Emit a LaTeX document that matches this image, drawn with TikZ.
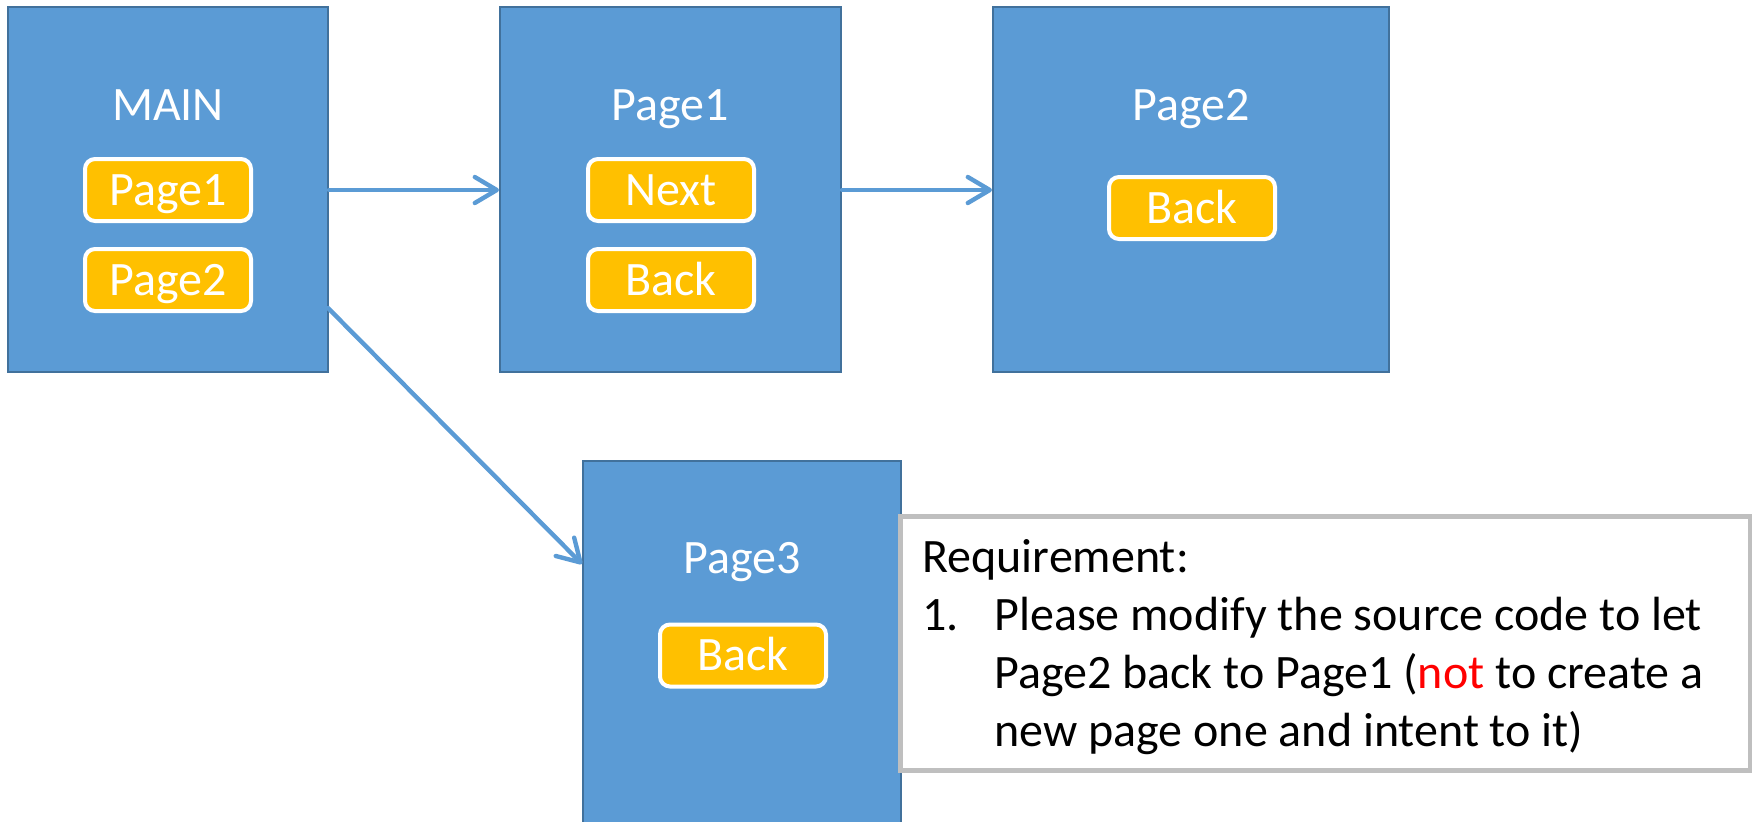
\documentclass[tikz,border=0pt]{standalone}
\usepackage{fontspec}
\setmainfont{Carlito}
\usetikzlibrary{arrows.meta,calc}
\definecolor{pagefill}{HTML}{5B9BD5}
\definecolor{pageedge}{HTML}{41719C}
\definecolor{btnfill}{HTML}{FFC000}
\definecolor{noteedge}{HTML}{BFBFBF}
\definecolor{alertred}{HTML}{FF0000}
\tikzset{
  pagebox/.style={rectangle, draw=pageedge, fill=pagefill, line width=1pt, inner sep=0pt},
  pagetitle/.style={text=white, anchor=base, inner sep=0pt, font=\fontsize{24pt}{29pt}\selectfont},
  btn/.style={rectangle, rounded corners=5pt, draw=white, fill=btnfill, line width=2pt,
    minimum width=83pt, minimum height=31pt, inner sep=0pt, text=white,
    text height=15pt, text depth=0pt,
    font=\fontsize{24pt}{29pt}\selectfont},
  flow/.style={draw=pagefill, line width=2.2pt, line cap=round,
    -{Straight Barb[length=11pt, width=13pt, line cap=round, line join=round]}},
  notebox/.style={rectangle, draw=noteedge, fill=white, line width=2.5pt, inner sep=0pt},
  notetext/.style={inner sep=0pt, anchor=base west, align=left,
    font=\fontsize{24pt}{28.5pt}\selectfont}
}
\begin{document}
\begin{tikzpicture}[x=0.5pt, y=-0.5pt]
  \useasboundingbox (0,0) rectangle (1752,821);
  \clip (0,0) rectangle (1752,821);

  % page screens
  \node[pagebox, minimum width=160pt, minimum height=182.5pt] (main) at (168,189.5) {};
  \node[pagebox, minimum width=170.5pt, minimum height=182.5pt] (page1) at (670.5,189.5) {};
  \node[pagebox, minimum width=198pt, minimum height=182.5pt] (page2) at (1191,189.5) {};
  \node[pagebox, minimum width=159pt, minimum height=219.5pt] (page3) at (742,680.5) {};

  % screen titles
  \node[pagetitle] (maint) at (168,120) {MAIN};
  \node[pagetitle] (page1t) at (670.5,120) {Page1};
  \node[pagetitle] (page2t) at (1191,120) {Page2};
  \node[pagetitle] (page3t) at (742,573) {Page3};

  % buttons
  \node[btn] (mainb1) at (168,190) {Page1};
  \node[btn] (mainb2) at (168,280) {Page2};
  \node[btn] (p1next) at (671,190) {Next};
  \node[btn] (p1back) at (671,280) {Back};
  \node[btn] (p2back) at (1192,208) {Back};
  \node[btn] (p3back) at (743,655.5) {Back};

  % navigation
  \coordinate (diagstart) at (328,308);
  \coordinate (diagend) at (582,564);
  \draw[flow] (mainb1 -| main.east) -- (mainb1 -| page1.west);
  \draw[flow] (p1next -| page1.east) -- (p1next -| page2.west);
  \draw[flow] (diagstart) -- (diagend);

  % requirement note
  \node[notebox, minimum width=425pt, minimum height=127pt] (note) at (1325,643) {};
  \node[notetext] (notetxt) at (922,572) {%
    \def\arraystretch{1.0}%
    \begin{tabular}[t]{@{}l@{}l@{}}
      \multicolumn{2}{@{}l@{}}{Requirement:}\\[0.5pt]
      \makebox[36pt][l]{1.} & Please modify the source code to let\\[0.5pt]
      & Page2 back to Page1 (\textcolor{alertred}{not} to create a\\[0.5pt]
      & new page one and intent to it)
    \end{tabular}};
\end{tikzpicture}
\end{document}
